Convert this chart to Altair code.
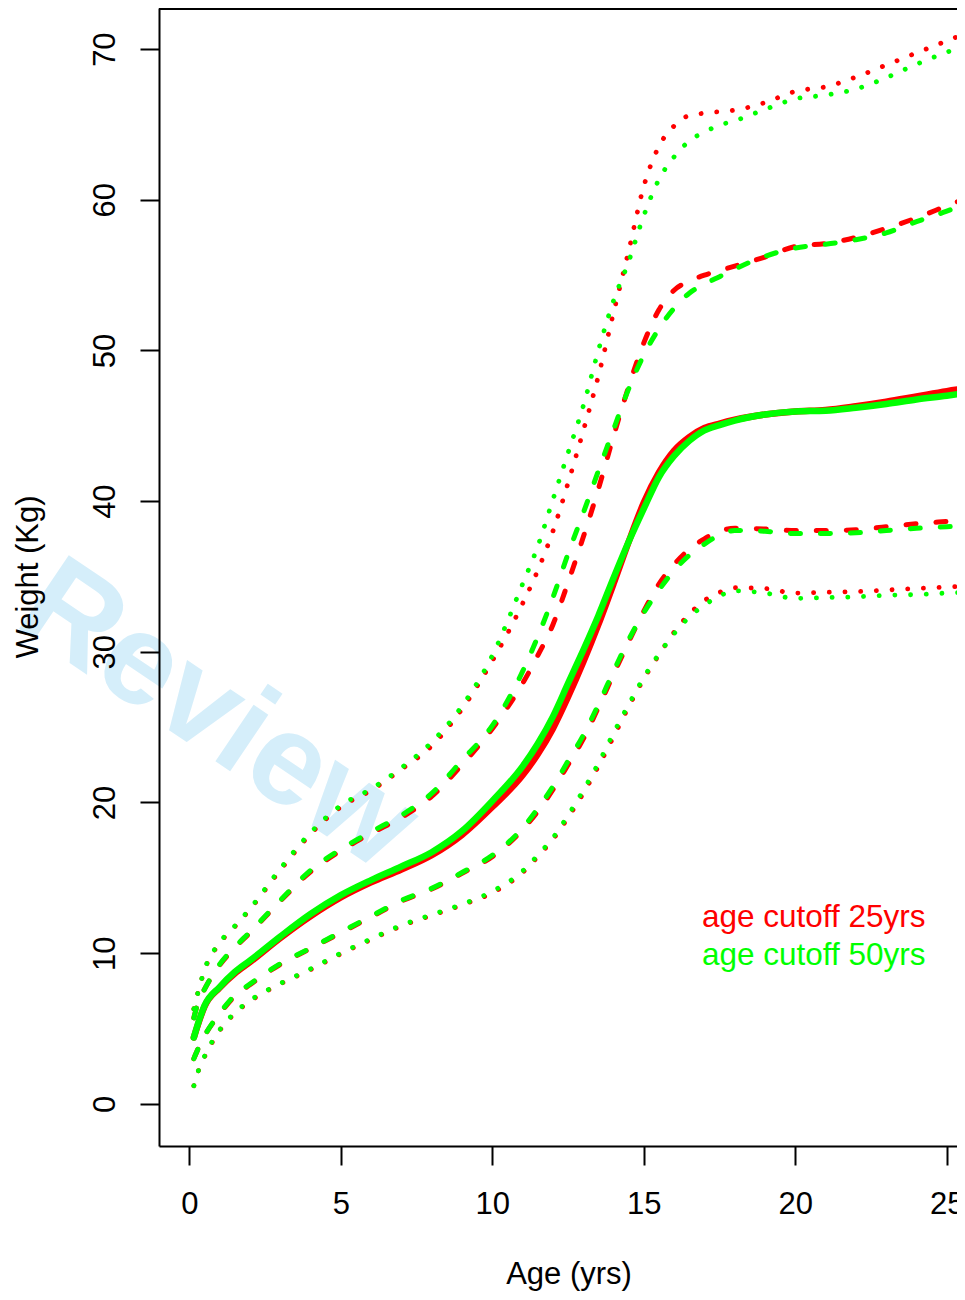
import altair as alt
import pandas as pd

# ---- data ----
ages = [0.15, 0.3, 0.5, 1, 1.5, 2, 3, 4, 5, 6, 7, 8, 9, 10, 11, 11.5, 12, 12.5,
        13, 13.5, 14, 14.5, 15, 15.5, 16, 16.5, 17, 17.5, 18, 19, 20, 21, 22,
        23, 24, 25, 25.7]

# age cutoff 25yrs (red)
red_median = [4.4, 5.35, 6.45, 7.7, 8.65, 9.4, 11.0, 12.45, 13.7, 14.7, 15.55, 16.5,
              17.85, 19.7, 21.8, 23.2, 24.9, 27.0, 29.3, 31.8, 34.5, 37.3, 39.9, 41.9,
              43.35, 44.25, 44.85, 45.15, 45.4, 45.75, 45.95, 46.05, 46.3, 46.6, 46.95,
              47.3, 47.5]
red_upper_dash = [5.7, 6.8, 7.6, 9.2, 10.35, 11.35, 13.45, 15.4, 16.8, 17.95, 19.0, 20.4,
                  22.5, 24.9, 27.9, 29.75, 31.8, 34.6, 37.6, 40.8, 44.3, 47.6, 50.5, 52.7,
                  54.0, 54.6, 55.0, 55.3, 55.6, 56.2, 56.9, 57.1, 57.5, 58.1, 58.8, 59.6,
                  60.15]
red_lower_dash = [3.0, 3.7, 4.5, 5.95, 7.15, 7.9, 9.25, 10.3, 11.35, 12.4, 13.45, 14.25,
                  15.3, 16.4, 18.2, 19.4, 20.85, 22.5, 24.2, 26.3, 28.5, 30.65, 32.7, 34.5,
                  35.8, 36.8, 37.5, 38.0, 38.2, 38.15, 38.05, 38.05, 38.1, 38.3, 38.5,
                  38.65, 38.75]
red_upper_dot = [6.3, 7.5, 8.85, 10.65, 11.75, 12.9, 15.5, 17.9, 19.7, 20.8, 22.2, 23.75,
                 26.2, 29.4, 33.2, 35.4, 38.0, 41.2, 44.65, 48.3, 52.5, 56.6, 60.9, 63.55,
                 64.9, 65.6, 65.75, 65.85, 65.95, 66.45, 67.2, 67.5, 68.15, 68.95, 69.75,
                 70.55, 71.1]
red_lower_dot = [1.2, 2.2, 3.1, 4.85, 6.0, 6.8, 7.95, 8.9, 9.95, 10.9, 11.8, 12.5, 13.2,
                 14.0, 15.35, 16.4, 17.55, 19.0, 20.6, 22.4, 24.35, 26.35, 28.2, 29.8,
                 31.3, 32.5, 33.4, 33.95, 34.25, 34.2, 33.9, 33.95, 34.0, 34.1, 34.2,
                 34.3, 34.35]

# age cutoff 50yrs (green)
green_median = [4.4, 5.4, 6.5, 7.75, 8.75, 9.5, 11.1, 12.6, 13.85, 14.85, 15.75, 16.7,
                18.1, 20.1, 22.4, 23.9, 25.7, 27.9, 30.1, 32.4, 34.9, 37.3, 39.5, 41.6,
                43.0, 44.0, 44.7, 45.05, 45.35, 45.75, 45.95, 46.0, 46.2, 46.45, 46.75,
                47.0, 47.2]
green_upper_dash = [5.7, 6.8, 7.6, 9.25, 10.4, 11.4, 13.5, 15.5, 16.9, 18.05, 19.15, 20.6,
                    22.8, 25.1, 28.7, 31.0, 33.6, 36.5, 39.2, 42.0, 44.75, 47.45, 49.7,
                    51.45, 52.8, 53.8, 54.4, 54.9, 55.4, 56.25, 56.8, 57.05, 57.35, 57.8,
                    58.55, 59.25, 59.8]
green_lower_dash = [3.0, 3.7, 4.5, 6.0, 7.2, 7.95, 9.3, 10.33, 11.4, 12.45, 13.5, 14.3,
                    15.35, 16.5, 18.3, 19.6, 21.05, 22.75, 24.45, 26.5, 28.7, 30.8, 32.6,
                    34.1, 35.4, 36.4, 37.15, 37.75, 38.05, 38.0, 37.85, 37.85, 37.9, 38.05,
                    38.2, 38.3, 38.35]
green_upper_dot = [6.3, 7.5, 8.9, 10.7, 11.8, 12.95, 15.6, 18.0, 19.8, 20.9, 22.3, 24.0,
                   26.4, 29.75, 34.5, 37.0, 40.1, 43.2, 46.3, 50.0, 53.3, 55.9, 58.95,
                   61.35, 62.85, 63.9, 64.5, 64.95, 65.25, 66.0, 66.7, 66.95, 67.35, 68.1,
                   69.0, 69.8, 70.3]
green_lower_dot = [1.2, 2.2, 3.15, 4.9, 6.05, 6.85, 7.98, 8.95, 10.0, 10.95, 11.85, 12.55,
                   13.25, 14.1, 15.45, 16.5, 17.65, 19.15, 20.8, 22.6, 24.6, 26.5, 28.3,
                   29.85, 31.2, 32.3, 33.1, 33.7, 34.05, 33.9, 33.55, 33.6, 33.65, 33.75,
                   33.8, 33.9, 33.95]

x_ticks = [0, 5, 10, 15, 20, 25]
y_ticks = [0, 10, 20, 30, 40, 50, 60, 70]
legend_labels = ["age cutoff 25yrs", "age cutoff 50yrs"]
watermark = ["Review"]

RED = "#FF0000"
GREEN = "#00FF00"
FONT = "Liberation Sans"

PLOT_W = 798
PLOT_H = 1138

curves = [
    (red_median, RED, "solid"), (red_upper_dash, RED, "dash"), (red_lower_dash, RED, "dash"),
    (red_upper_dot, RED, "dot"), (red_lower_dot, RED, "dot"),
    (green_median, GREEN, "solid"), (green_upper_dash, GREEN, "dash"),
    (green_lower_dash, GREEN, "dash"), (green_upper_dot, GREEN, "dot"),
    (green_lower_dot, GREEN, "dot"),
]

STYLE = {
    "solid": dict(strokeWidth=6.5, strokeCap="round"),
    "dash": dict(strokeWidth=5, strokeDash=[10, 20], strokeCap="round"),
    "dot": dict(strokeWidth=4.8, strokeDash=[0.1, 15.6], strokeCap="round"),
}

x_axis = alt.Axis(
    values=x_ticks, title="Age (yrs)", grid=False, domain=True, domainColor="black",
    domainWidth=2, ticks=True, tickSize=19, tickWidth=2, tickColor="black",
    labelFont=FONT, labelFontSize=31, labelColor="black", labelPadding=48,
    labelBaseline="alphabetic", labelFlush=False, labelOverlap=False,
    titleFont=FONT, titleFontSize=31, titleFontWeight="normal", titleColor="black",
    titleX=409.5, titleY=137, titleAlign="center", titleBaseline="alphabetic",
    zindex=1,
)
y_axis = alt.Axis(
    values=y_ticks, title="Weight (Kg)", grid=False, domain=True, domainColor="black",
    domainWidth=2, ticks=True, tickSize=19, tickWidth=2, tickColor="black",
    labelFont=FONT, labelFontSize=31, labelColor="black", labelPadding=26,
    labelAngle=270, labelAlign="center", labelBaseline="alphabetic",
    labelFlush=False, labelOverlap=False,
    titleFont=FONT, titleFontSize=31, titleFontWeight="normal", titleColor="black",
    titleAngle=270, titleX=-122, titleY=568.5, titleAlign="center",
    titleBaseline="alphabetic", zindex=1,
)

x_max = -1 + PLOT_W / 30.3
x_enc = alt.X("age:Q", scale=alt.Scale(domain=[-1, x_max], nice=False, zero=False), axis=x_axis)
y_enc = alt.Y("weight:Q", scale=alt.Scale(domain=[-2.8, 72.73], nice=False, zero=False), axis=y_axis)

layers = []

wm = alt.Chart(pd.DataFrame({"t": watermark})).mark_text(
    angle=34, fontSize=129, fontWeight="bold", font=FONT, color="#d5eefa",
    align="center", baseline="middle",
).encode(text="t:N", x=alt.value(59), y=alt.value(708))
layers.append(wm)

# top edge of the plot box (the right edge lies outside the picture)
top_edge = alt.Chart(pd.DataFrame({"k": [0]})).mark_rule(color="black", strokeWidth=2).encode(
    x=alt.value(0), x2=alt.value(PLOT_W), y=alt.value(1)
)
layers.append(top_edge)

for values, color, style in curves:
    df = pd.DataFrame({"age": ages, "weight": values})
    layers.append(
        alt.Chart(df).mark_line(color=color, interpolate="monotone", clip=True,
                                strokeJoin="round", **STYLE[style])
        .encode(x=x_enc, y=y_enc)
    )

for i, (lab, col) in enumerate(zip(legend_labels, [RED, GREEN])):
    layers.append(
        alt.Chart(pd.DataFrame({"label": [lab]})).mark_text(
            font=FONT, fontSize=31.5, color=col, align="left", baseline="alphabetic"
        ).encode(text="label:N", x=alt.value(543), y=alt.value(919 + 38 * i))
    )

chart = (
    alt.layer(*layers)
    .properties(width=PLOT_W, height=PLOT_H,
                padding={"left": 151, "top": 0, "right": 0, "bottom": 146},
                autosize=alt.AutoSizeParams(type="none"))
    .configure_view(strokeWidth=0)
)

chart.save("out.html", embed_options={"renderer": "svg", "actions": False})
